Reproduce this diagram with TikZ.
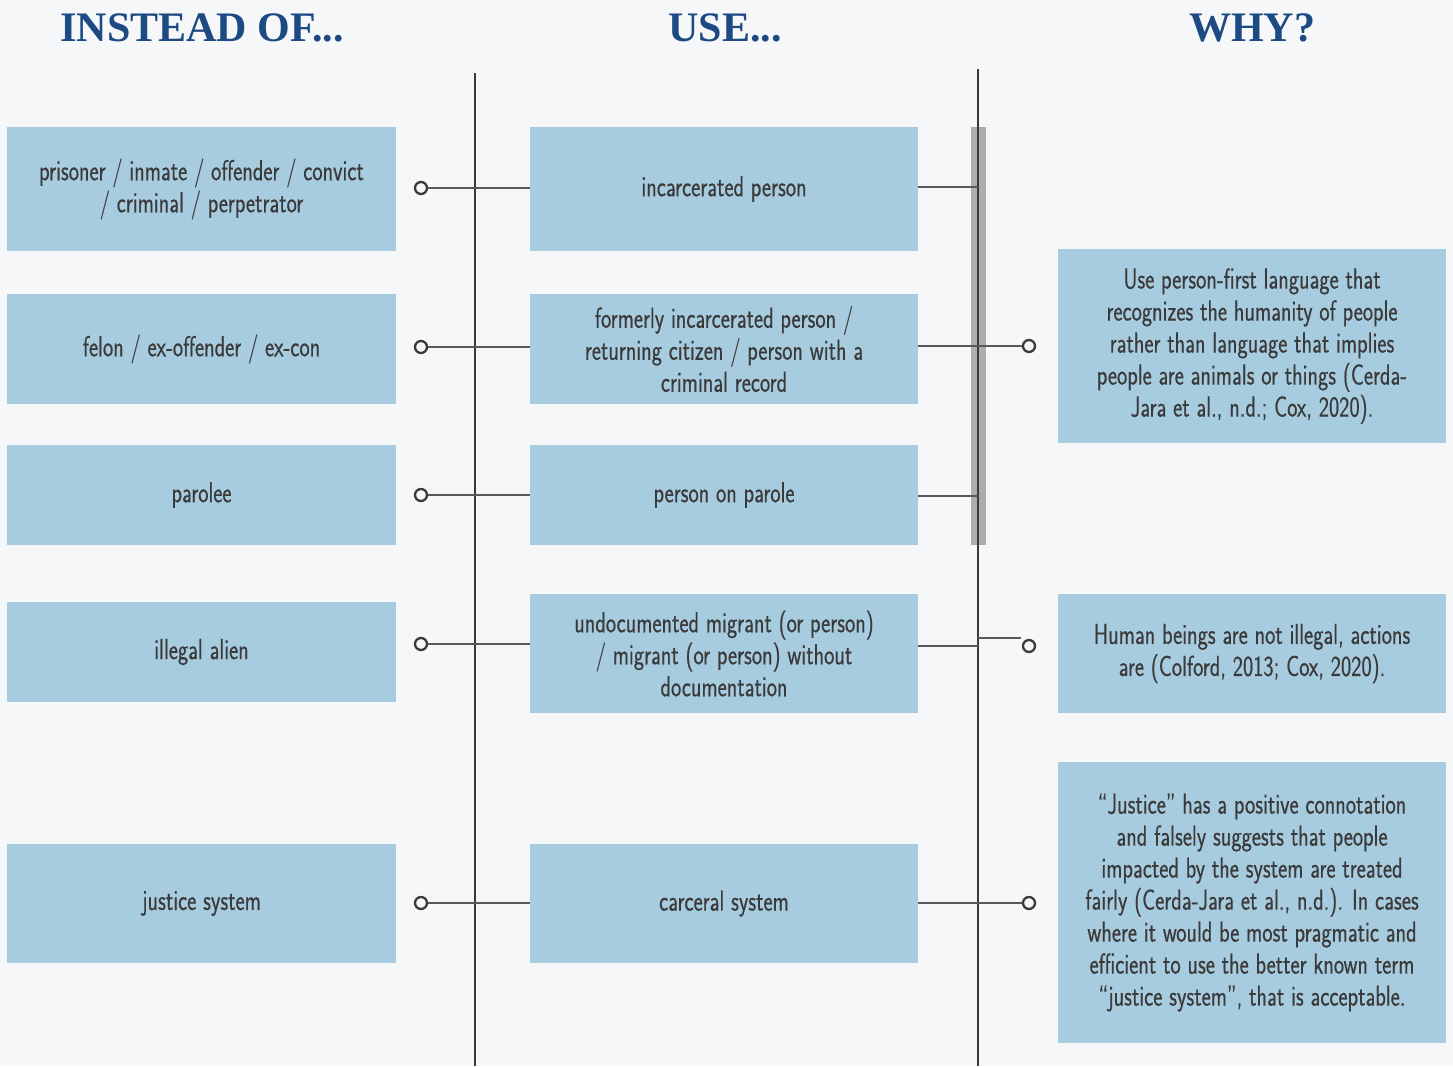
\documentclass[tikz,border=0pt]{standalone}
\usepackage{fontspec}
\newfontfamily\headfont{Liberation Serif}
\newfontfamily\bodyfont{Latin Modern Sans}[FakeStretch=0.75,FakeBold=0.4]
\definecolor{bg}{HTML}{F6F7F9}
\definecolor{boxc}{HTML}{A8CCDF}
\definecolor{headc}{HTML}{1D4A82}
\definecolor{txt}{HTML}{3A3A3A}
\definecolor{linec}{HTML}{3A3A3A}
\definecolor{barc}{HTML}{ADADAD}
\tikzset{
  box/.style={fill=boxc, inner sep=0pt, align=center, text=txt,
    font=\bodyfont\fontsize{29}{32}\selectfont},
  head/.style={text=headc, font=\headfont\bfseries\fontsize{42}{46}\selectfont},
  dot/.style={circle, draw=linec, line width=2.3pt, fill=bg, minimum size=12pt, inner sep=0pt},
  conn/.style={draw=linec!85, line width=1.1pt},
  vline/.style={draw=linec, line width=1.4pt}
}
\begin{document}
\begin{tikzpicture}[x=1pt,y=-1pt]
\fill[bg] (0,0) rectangle (1453,1066);
\useasboundingbox (0,0) rectangle (1453,1066);

% headers
\node[head] (h1) at (202,28) {INSTEAD OF...};
\node[head] (h2) at (725,28) {USE...};
\node[head] (h3) at (1252,28) {WHY?};

% gray bar and vertical lines
\fill[barc] (971,127) rectangle (986,545);
\coordinate (vLtop) at (475,73);
\coordinate (vLbot) at (475,1066);
\coordinate (vRtop) at (978,69);
\coordinate (vRbot) at (978,1066);
\draw[vline] (vLtop) -- (vLbot);
\draw[vline] (vRtop) -- (vRbot);

% left column
\node[box, minimum width=389pt, minimum height=124pt] (l1) at (201.5,189) {prisoner / inmate / offender / convict\\/ criminal / perpetrator};
\node[box, minimum width=389pt, minimum height=110pt] (l2) at (201.5,349) {felon / ex-offender / ex-con};
\node[box, minimum width=389pt, minimum height=100pt] (l3) at (201.5,495) {parolee};
\node[box, minimum width=389pt, minimum height=100pt] (l4) at (201.5,652) {illegal alien};
\node[box, minimum width=389pt, minimum height=119pt] (l5) at (201.5,903.5) {justice system};

% middle column
\node[box, minimum width=388pt, minimum height=124pt] (m1) at (724,189) {incarcerated person};
\node[box, minimum width=388pt, minimum height=110pt] (m2) at (724,349) {formerly incarcerated person /\\returning citizen / person with a\\criminal record};
\node[box, minimum width=388pt, minimum height=100pt] (m3) at (724,495) {person on parole};
\node[box, minimum width=388pt, minimum height=119pt] (m4) at (724,653.5) {undocumented migrant (or person)\\/ migrant (or person) without\\documentation};
\node[box, minimum width=388pt, minimum height=119pt] (m5) at (724,903.5) {carceral system};

% right column
\node[box, minimum width=388pt, minimum height=194pt] (rA) at (1252,346) {Use person-first language that\\recognizes the humanity of people\\rather than language that implies\\people are animals or things (Cerda-\\Jara et al., n.d.; Cox, 2020).};
\node[box, minimum width=388pt, minimum height=119pt] (rB) at (1252,653.5) {Human beings are not illegal, actions\\are (Colford, 2013; Cox, 2020).};
\node[box, minimum width=388pt, minimum height=281pt] (rC) at (1252,902.5) {“Justice” has a positive connotation\\and falsely suggests that people\\impacted by the system are treated\\fairly (Cerda-Jara et al., n.d.). In cases\\where it would be most pragmatic and\\efficient to use the better known term\\“justice system”, that is acceptable.};

% left dots and connectors
\node[dot] (c1) at (421,188) {};
\node[dot] (c2) at (421,347) {};
\node[dot] (c3) at (421,495) {};
\node[dot] (c4) at (421,644) {};
\node[dot] (c5) at (421,903) {};
\draw[conn] (c1) -- (c1 -| m1.west);
\draw[conn] (c2) -- (c2 -| m2.west);
\draw[conn] (c3) -- (c3 -| m3.west);
\draw[conn] (c4) -- (c4 -| m4.west);
\draw[conn] (c5) -- (c5 -| m5.west);

% right dots
\node[dot] (dA) at (1029,346) {};
\node[dot] (dB) at (1029,646) {};
\node[dot] (dC) at (1029,903) {};

% middle to right connectors
\coordinate (e1) at (918,187);
\coordinate (e3) at (918,496);
\draw[conn] (e1) -- (e1 -| vRtop);
\draw[conn] (e3) -- (e3 -| vRtop);
\draw[conn] (dA -| m2.east) -- (dA);
\draw[conn] (dB -| m4.east) -- (dB -| vRtop);
\coordinate (bk1) at (978,638);
\coordinate (bk2) at (1021,638);
\draw[conn] (bk1) -- (bk2);
\draw[conn] (dC -| m5.east) -- (dC);
\end{tikzpicture}
\end{document}
